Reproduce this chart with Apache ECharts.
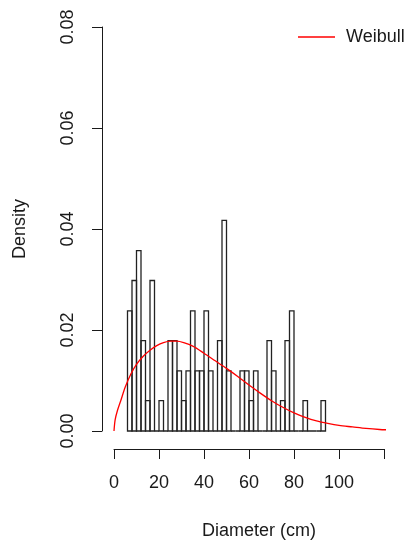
<!DOCTYPE html>
<html>
<head>
<meta charset="utf-8">
<script src="https://cdn.jsdelivr.net/npm/echarts@6/dist/echarts.min.js"></script>
<style>
  html, body { margin: 0; padding: 0; background: #fff; }
  #chart { width: 412px; height: 549px; }
</style>
</head>
<body>
<div id="chart"></div>
<script>
// histogram bins (left edge, width 2 cm) and their density
var binWidth = 2;
var binLeft = [6, 8, 10, 12, 14, 16, 18, 20, 22, 24, 26, 28, 30, 32, 34, 36, 38, 40, 42, 44, 46, 48,
  50, 52, 54, 56, 58, 60, 62, 64, 66, 68, 70, 72, 74, 76, 78, 80, 82, 84, 86, 88, 90, 92];
var density = [0.0238, 0.0298, 0.0357, 0.0179, 0.0060, 0.0298, 0, 0.0060, 0, 0.0179, 0.0179,
  0.0119, 0.0060, 0.0119, 0.0238, 0.0119, 0.0119, 0.0238, 0.0119, 0, 0.0179, 0.0417,
  0.0119, 0, 0, 0.0119, 0.0119, 0.0060, 0.0119, 0, 0, 0.0179, 0.0119, 0, 0.0060,
  0.0179, 0.0238, 0, 0, 0.0060, 0, 0, 0, 0.0060];

// fitted weibull curve
var curveX = [0, 0.5, 1.5, 3, 5, 7.5, 10, 13, 16, 19, 22, 25, 28, 31, 35, 40, 45, 50, 55, 60,
  65, 70, 75, 80, 85, 90, 95, 100, 106, 112, 118, 124, 130];
var curveY = [0, 0.0022, 0.0040, 0.0060, 0.0087, 0.0113, 0.0132, 0.0148, 0.0160, 0.0169, 0.0175,
  0.0178, 0.0178, 0.0175, 0.0168, 0.0154, 0.0139, 0.0124, 0.0108, 0.0091, 0.0075, 0.0060,
  0.0047, 0.0036, 0.0027, 0.0020, 0.0015, 0.0011, 0.0008, 0.0005, 0.0003, 0.0002, 0.0001];

var xTicks = [0, 20, 40, 60, 80, 100];
var yTicks = [0, 0.02, 0.04, 0.06, 0.08];

var font = 'Liberation Sans, Arial, sans-serif';
var ink = '#1a1a1a';

var bars = binLeft.map(function(x, i) {
  return [x, x + binWidth, density[i]];
});
var curve = curveX.map(function(x, i) {
  return [x, curveY[i]];
});

var chart = echarts.init(document.getElementById('chart'));
chart.setOption({
  animation: false,
  backgroundColor: '#fff',
  textStyle: { fontFamily: font },
  title: {
    text: 'Diameter (cm)',
    left: 259,
    top: 522,
    textAlign: 'center',
    padding: 0,
    textStyle: { fontFamily: font, fontSize: 18, fontWeight: 'normal', color: ink }
  },
  legend: {
    left: 293,
    top: 23,
    data: ['Weibull'],
    icon: 'rect',
    itemWidth: 37,
    itemHeight: 1.5,
    textStyle: { fontFamily: font, fontSize: 18, color: ink, padding: [0, 0, 0, 6] }
  },
  grid: {
    left: 114,
    top: 27,
    width: 270,
    height: 404,
    containLabel: false,
    outerBoundsMode: 'none'
  },
  xAxis: {
    type: 'value',
    min: 0,
    max: 120,
    interval: 20,
    offset: 18,
    axisLine: { show: true, onZero: false, lineStyle: { color: ink, width: 1 } },
    axisTick: { show: true, length: 10, lineStyle: { color: ink } },
    splitLine: { show: false },
    axisLabel: {
      margin: 25,
      fontSize: 18,
      color: ink,
      fontFamily: font,
      formatter: function(v) {
        return xTicks.indexOf(v) >= 0 ? String(v) : '';
      }
    }
  },
  yAxis: {
    type: 'value',
    min: 0,
    max: 0.08,
    interval: 0.02,
    offset: 12,
    name: 'Density',
    nameLocation: 'middle',
    nameGap: 73,
    nameRotate: 90,
    nameTextStyle: { fontFamily: font, fontSize: 18, color: ink },
    axisLine: { show: true, onZero: false, lineStyle: { color: ink, width: 1 } },
    axisTick: { show: true, length: 10, lineStyle: { color: ink } },
    splitLine: { show: false },
    axisLabel: {
      rotate: 90,
      margin: 25,
      fontSize: 18,
      color: ink,
      fontFamily: font,
      formatter: function(v) {
        return yTicks.indexOf(v) >= 0 ? v.toFixed(2) : '';
      }
    }
  },
  series: [{
    type: 'custom',
    name: 'hist',
    data: bars,
    encode: { x: [0, 1], y: 2 },
    renderItem: function(params, api) {
      var p0 = api.coord([api.value(0), 0]);
      var p1 = api.coord([api.value(1), api.value(2)]);
      return {
        type: 'rect',
        shape: { x: p0[0], y: p1[1], width: p1[0] - p0[0], height: p0[1] - p1[1] },
        style: { fill: 'none', stroke: '#222', lineWidth: 1.3 }
      };
    }
  }, {
    type: 'line',
    name: 'Weibull',
    data: curve,
    smooth: 0.3,
    showSymbol: false,
    clip: false,
    color: '#ff0000',
    lineStyle: { color: '#ff0000', width: 1.3 }
  }]
});
</script>
</body>
</html>
